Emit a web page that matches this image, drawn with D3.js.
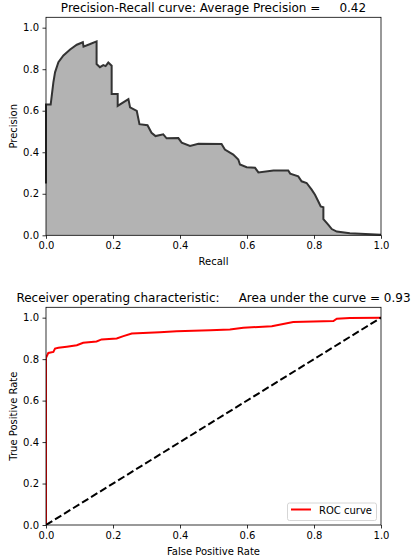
<!DOCTYPE html>
<html>
<head>
<meta charset="utf-8">
<script src="https://d3js.org/d3.v7.min.js"></script>
<style>
  body { margin: 0; background: #fff; }
  text { font-family: "DejaVu Sans", sans-serif; fill: #000; }
</style>
</head>
<body>
<div id="chart"></div>
<script>
// Precision-recall curve points (recall, precision)
var prRecall = [0, 0, 0.014, 0.017, 0.022, 0.027, 0.037, 0.052, 0.072, 0.092, 0.11, 0.112, 0.13, 0.151, 0.151,
  0.161, 0.171, 0.178, 0.186, 0.196, 0.196, 0.214, 0.214, 0.246, 0.251, 0.271, 0.279, 0.303, 0.315, 0.327,
  0.35, 0.36, 0.395, 0.405, 0.43, 0.455, 0.524, 0.534, 0.559, 0.574, 0.579, 0.599, 0.624, 0.634, 0.679,
  0.723, 0.729, 0.753, 0.763, 0.778, 0.793, 0.803, 0.813, 0.82, 0.828, 0.828, 0.843, 0.853, 0.868, 0.907, 1.0];
var prPrecision = [0.25, 0.63, 0.63, 0.67, 0.737, 0.785, 0.834, 0.866, 0.895, 0.918, 0.93, 0.909, 0.92, 0.934, 0.825,
  0.81, 0.82, 0.815, 0.832, 0.817, 0.68, 0.68, 0.623, 0.656, 0.616, 0.599, 0.535, 0.53, 0.494, 0.478,
  0.486, 0.467, 0.468, 0.446, 0.43, 0.441, 0.44, 0.413, 0.389, 0.365, 0.341, 0.328, 0.325, 0.303, 0.312,
  0.312, 0.297, 0.284, 0.26, 0.252, 0.22, 0.195, 0.163, 0.139, 0.135, 0.078, 0.05, 0.03, 0.018, 0.01, 0.003];

// ROC curve points
var rocFpr = [0, 0, 0.007, 0.022, 0.027, 0.037, 0.062, 0.092, 0.111, 0.151, 0.166, 0.211, 0.231, 0.256,
  0.34, 0.39, 0.49, 0.549, 0.589, 0.674, 0.738, 0.858, 0.868, 0.907, 1.0];
var rocTpr = [0, 0.806, 0.83, 0.835, 0.851, 0.855, 0.86, 0.867, 0.879, 0.885, 0.895, 0.9, 0.911, 0.924,
  0.93, 0.935, 0.939, 0.943, 0.951, 0.959, 0.979, 0.984, 0.995, 0.998, 1.0];

var diagX = [0, 1];
var diagY = [0, 1];

var tickValues = [0, 0.2, 0.4, 0.6, 0.8, 1.0];
var averagePrecision = "0.42";
var areaUnderCurve = "0.93";

var svgWidth = 415;
var svgHeight = 559;

var svg = d3
  .select("#chart")
  .append("svg")
  .attr("width", svgWidth)
  .attr("height", svgHeight);

// Draw one set of axes with frame, ticks and labels
function makeAxes(top, bottom, xLabel, yLabel, title) {
  var xScale = d3.scaleLinear().domain([0, 1]).range([46, 381]);
  var yScale = d3.scaleLinear().domain([0, 1.05]).range([bottom, top]);

  var g = svg.append("g");

  var xAxis = g
    .append("g")
    .attr("transform", `translate(0, ${bottom})`)
    .call(d3.axisBottom(xScale).tickValues(tickValues).tickFormat(d3.format(".1f"))
      .tickSize(3.5).tickPadding(3.5).tickSizeOuter(0));

  var yAxis = g
    .append("g")
    .attr("transform", "translate(46, 0)")
    .call(d3.axisLeft(yScale).tickValues(tickValues).tickFormat(d3.format(".1f"))
      .tickSize(3.5).tickPadding(3.5).tickSizeOuter(0));

  [xAxis, yAxis].forEach(function(a) {
    a.select(".domain").remove();
    a.selectAll("line").attr("stroke", "#000").attr("stroke-width", 0.8);
    a.selectAll("text").attr("font-size", 10).attr("font-family", "DejaVu Sans").attr("fill", "#000");
  });

  g.append("text")
    .attr("x", 213.5)
    .attr("y", bottom + 29.5)
    .attr("text-anchor", "middle")
    .attr("font-size", 10)
    .text(xLabel);

  g.append("text")
    .attr("transform", "rotate(-90)")
    .attr("x", -(top + bottom) / 2)
    .attr("y", 17)
    .attr("text-anchor", "middle")
    .attr("font-size", 10)
    .text(yLabel);

  g.append("text")
    .attr("x", 213.5)
    .attr("y", top - 5.5)
    .attr("text-anchor", "middle")
    .attr("font-size", 12)
    .style("white-space", "pre")
    .text(title);

  return { g: g, x: xScale, y: yScale, top: top, bottom: bottom };
}

// ---- Precision-Recall ----
var pr = makeAxes(17.3, 235.3, "Recall", "Precision",
  "Precision-Recall curve: Average Precision =     " + averagePrecision);

var prData = prRecall.map(function(r, i) { return [r, prPrecision[i]]; });

var prArea = d3.area()
  .x(d => pr.x(d[0]))
  .y0(pr.y(0))
  .y1(d => pr.y(d[1]));

pr.g.insert("path", ":first-child")
  .datum(prData)
  .attr("d", prArea)
  .attr("fill", "#b3b3b3");

pr.g.append("path")
  .datum(prData)
  .attr("d", d3.line().x(d => pr.x(d[0])).y(d => pr.y(d[1])))
  .attr("fill", "none")
  .attr("stroke", "#333")
  .attr("stroke-width", 2)
  .attr("stroke-linejoin", "miter");

pr.g.append("rect")
  .attr("x", 46).attr("y", pr.top)
  .attr("width", 335).attr("height", pr.bottom - pr.top)
  .attr("fill", "none").attr("stroke", "#000").attr("stroke-width", 0.8);

// ---- ROC ----
var roc = makeAxes(307.3, 525, "False Positive Rate", "True Positive Rate",
  "Receiver operating characteristic:     Area under the curve = " + areaUnderCurve);

var clip = svg.append("clipPath").attr("id", "rocClip")
  .append("rect").attr("x", 46).attr("y", roc.top).attr("width", 335).attr("height", roc.bottom - roc.top);

var rocData = rocFpr.map(function(f, i) { return [f, rocTpr[i]]; });
var diagData = diagX.map(function(f, i) { return [f, diagY[i]]; });

roc.g.append("path")
  .datum(rocData)
  .attr("clip-path", "url(#rocClip)")
  .attr("d", d3.line().x(d => roc.x(d[0])).y(d => roc.y(d[1])))
  .attr("fill", "none")
  .attr("stroke", "red")
  .attr("stroke-width", 2);

roc.g.append("path")
  .datum(diagData)
  .attr("clip-path", "url(#rocClip)")
  .attr("d", d3.line().x(d => roc.x(d[0])).y(d => roc.y(d[1])))
  .attr("fill", "none")
  .attr("stroke", "#000")
  .attr("stroke-width", 2)
  .attr("stroke-dasharray", "7.4,3.2");

roc.g.append("rect")
  .attr("x", 46).attr("y", roc.top)
  .attr("width", 335).attr("height", roc.bottom - roc.top)
  .attr("fill", "none").attr("stroke", "#000").attr("stroke-width", 0.8);

// legend
var legend = roc.g.append("g");
legend.append("rect")
  .attr("x", 287.5).attr("y", 503)
  .attr("width", 89).attr("height", 17.5)
  .attr("rx", 2)
  .attr("fill", "#fff").attr("fill-opacity", 0.8)
  .attr("stroke", "#ccc").attr("stroke-width", 0.8);
legend.append("line")
  .attr("x1", 291).attr("x2", 311)
  .attr("y1", 509.5).attr("y2", 509.5)
  .attr("stroke", "red").attr("stroke-width", 2);
legend.append("text")
  .attr("x", 319).attr("y", 513.5)
  .attr("font-size", 10)
  .text("ROC curve");
</script>
</body>
</html>
